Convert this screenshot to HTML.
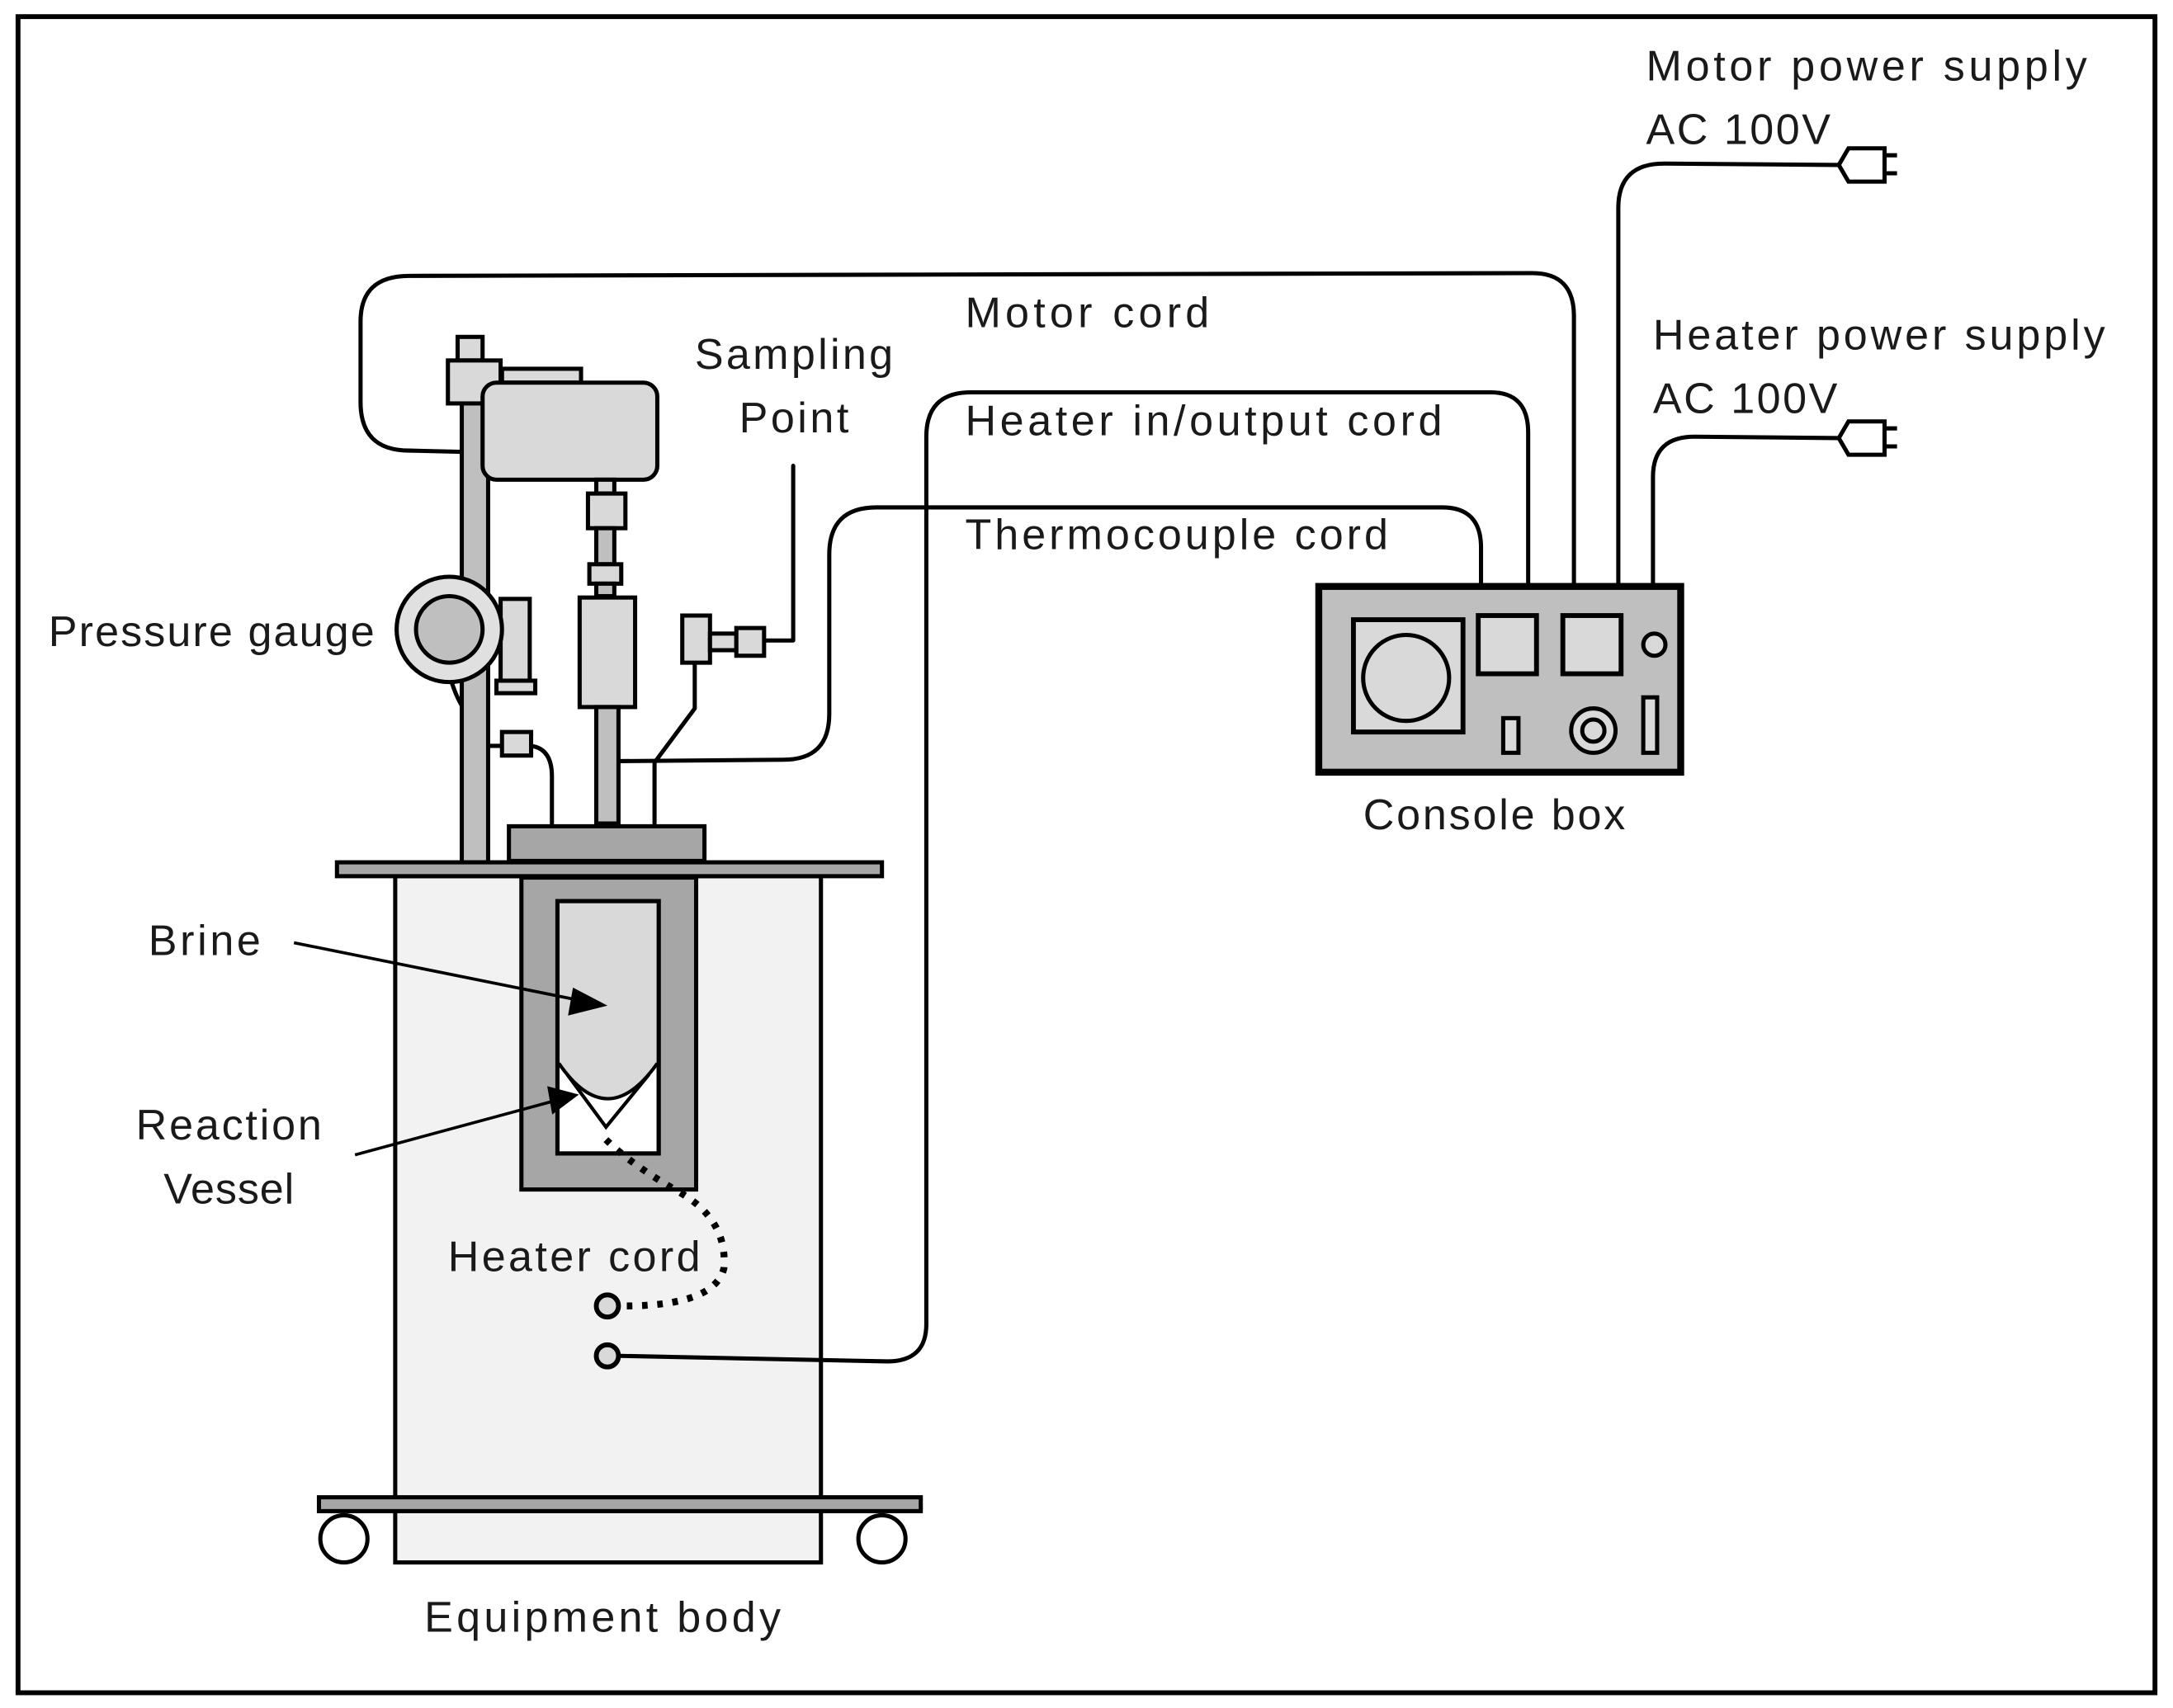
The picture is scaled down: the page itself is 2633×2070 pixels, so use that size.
<!DOCTYPE html>
<html><head><meta charset="utf-8"><style>
html,body{margin:0;padding:0;background:#fff;}
svg{display:block;}
text{font-family:"Liberation Sans",sans-serif;font-size:31px;fill:#1a1a1a;}
</style></head><body>
<svg width="2633" height="2070" viewBox="0 0 1567 1232" preserveAspectRatio="none" xmlns="http://www.w3.org/2000/svg">
<rect x="13" y="12" width="1541" height="1209" fill="#fff" stroke="#000" stroke-width="3.5"/>
<g stroke="#000" stroke-width="3" fill="none" stroke-linecap="round" stroke-linejoin="round">
<path d="M337,326 L295,325 Q260,325 260,290 L260,232 Q260,199 295,199 L1105,197 Q1135,197 1135,228 L1135,422"/>
<path d="M447,549 L565,548 Q598,548 598,515 L598,400 Q598,366 632,366 L1040,366 Q1068,366 1068,395 L1068,422"/>
<path d="M1167,422 L1167,150 Q1167,118 1200,118 L1326,119"/>
<path d="M1192,422 L1192,344 Q1192,315 1222,315 L1326,316"/>
<path d="M551,462 L572,462 L572,336"/>
<path d="M501,478 L501,511 L472,550 L472,594"/>
<path d="M383,538 Q398,540 398,560 L398,594"/>
<path d="M352,538 L361,538"/>
<path d="M326,493 Q330,505 335,512"/>
</g>
<g stroke="#000" stroke-width="3" fill="#fff">
<path d="M1326,119 L1333,107 L1359,107 L1359,131 L1333,131 Z"/>
<path d="M1359,112 L1368,112 M1359,125 L1368,125" fill="none"/>
<path d="M1326,316 L1333,304 L1359,304 L1359,328 L1333,328 Z"/>
<path d="M1359,309 L1368,309 M1359,322 L1368,322" fill="none"/>
</g>
<g stroke="#000" stroke-width="3">
<rect x="333" y="288" width="19" height="334" fill="#bfbfbf"/>
<rect x="330" y="243" width="18" height="17" fill="#d9d9d9"/>
<rect x="323" y="260" width="38" height="31" fill="#d9d9d9"/>
<rect x="362" y="266" width="57" height="10" fill="#d9d9d9"/>
<rect x="348" y="276" width="126" height="70" rx="10" fill="#d9d9d9"/>
<rect x="430" y="346" width="13" height="10" fill="#d9d9d9"/>
<rect x="424" y="356" width="27" height="25" fill="#d9d9d9"/>
<rect x="430" y="381" width="13" height="26" fill="#bfbfbf"/>
<rect x="425" y="407" width="23" height="14" fill="#d9d9d9"/>
<rect x="430" y="421" width="13" height="9" fill="#bfbfbf"/>
<rect x="418" y="431" width="40" height="79" fill="#d9d9d9"/>
<rect x="430" y="510" width="16" height="84" fill="#bfbfbf"/>
<rect x="361" y="432" width="21" height="59" fill="#d9d9d9"/>
<rect x="358" y="491" width="28" height="9" fill="#d9d9d9"/>
<circle cx="324" cy="454" r="38" fill="#e0e0e0"/>
<circle cx="324" cy="454" r="24" fill="#bfbfbf"/>
<rect x="362" y="528" width="21" height="17" fill="#d9d9d9"/>
<rect x="492" y="444" width="20" height="34" fill="#d9d9d9"/>
<rect x="512" y="457" width="19" height="12" fill="#d9d9d9"/>
<rect x="531" y="453" width="20" height="20" fill="#d9d9d9"/>
<rect x="367" y="596" width="141" height="25" fill="#a6a6a6"/>
<rect x="285" y="632" width="307" height="495" fill="#f2f2f2"/>
<rect x="243" y="622" width="393" height="10" fill="#a6a6a6"/>
<rect x="376" y="633" width="126" height="225" fill="#a6a6a6"/>
<rect x="402" y="650" width="73" height="182" fill="#fff"/>
</g>
<path d="M447,978 L640,982 Q668,982 668,955 L668,315 Q668,283 700,283 L1075,283 Q1102,283 1102,312 L1102,422" fill="none" stroke="#000" stroke-width="3" stroke-linecap="round"/>
<path d="M403,651 L474,651 L474,767 Q438,818 403,767 Z" fill="#d9d9d9" stroke="none"/>
<g stroke="#000" stroke-width="2.5" fill="none">
<path d="M403,767 Q438,818 474,767"/>
<path d="M409,775 L437,813 L468,775"/>
</g>
<rect x="402" y="650" width="73" height="182" fill="none" stroke="#000" stroke-width="3"/>
<g stroke="#000" stroke-width="2.2" fill="#000">
<line x1="212" y1="680" x2="420" y2="722"/>
<polygon points="435,725 414,714 411,731"/>
<line x1="256" y1="833" x2="400" y2="794"/>
<polygon points="415,790 396,785 399,802"/>
</g>
<path d="M437,822 Q455,840 490,860 Q525,880 522,915 Q515,942 450,942" fill="none" stroke="#000" stroke-width="5" stroke-dasharray="4,7"/>
<g stroke="#000" stroke-width="3.5" fill="#d9d9d9">
<circle cx="438" cy="942" r="8"/>
<circle cx="438" cy="978" r="8"/>
</g>
<g stroke="#000" stroke-width="3">
<rect x="230" y="1080" width="434" height="10" fill="#a6a6a6"/>
<circle cx="248" cy="1110" r="17" fill="#fff"/>
<circle cx="636" cy="1110" r="17" fill="#fff"/>
</g>
<g stroke="#000">
<rect x="951" y="423" width="261" height="134" fill="#bfbfbf" stroke-width="5"/>
<rect x="976" y="447" width="79" height="81" fill="#d9d9d9" stroke-width="3.5"/>
<circle cx="1014" cy="489" r="31" fill="#d9d9d9" stroke-width="3"/>
<rect x="1066" y="444" width="42" height="42" fill="#d9d9d9" stroke-width="3.5"/>
<rect x="1127" y="444" width="42" height="42" fill="#d9d9d9" stroke-width="3.5"/>
<circle cx="1193" cy="465" r="8" fill="#d9d9d9" stroke-width="3"/>
<rect x="1084" y="518" width="11" height="25" fill="#d9d9d9" stroke-width="3"/>
<circle cx="1149" cy="527" r="16" fill="#d9d9d9" stroke-width="3"/>
<circle cx="1149" cy="527" r="8" fill="#d9d9d9" stroke-width="3"/>
<rect x="1185" y="503" width="10" height="40" fill="#d9d9d9" stroke-width="3"/>
</g>
<text x="1187" y="58" textLength="318">Motor power supply</text>
<text x="1187" y="104" textLength="133">AC 100V</text>
<text x="1192" y="252" textLength="326">Heater power supply</text>
<text x="1192" y="298" textLength="133">AC 100V</text>
<text x="696" y="236" textLength="176">Motor cord</text>
<text x="501" y="266" textLength="143">Sampling</text>
<text x="533" y="312" textLength="79">Point</text>
<text x="696" y="314" textLength="344">Heater in/output cord</text>
<text x="696" y="396" textLength="305">Thermocouple cord</text>
<text x="35" y="466" textLength="235">Pressure gauge</text>
<text x="983" y="598" textLength="189">Console box</text>
<text x="107" y="689" textLength="81">Brine</text>
<text x="98" y="822" textLength="134">Reaction</text>
<text x="118" y="868" textLength="94">Vessel</text>
<text x="323" y="917" textLength="182">Heater cord</text>
<text x="306" y="1177" textLength="257">Equipment body</text>
</svg>
</body></html>
